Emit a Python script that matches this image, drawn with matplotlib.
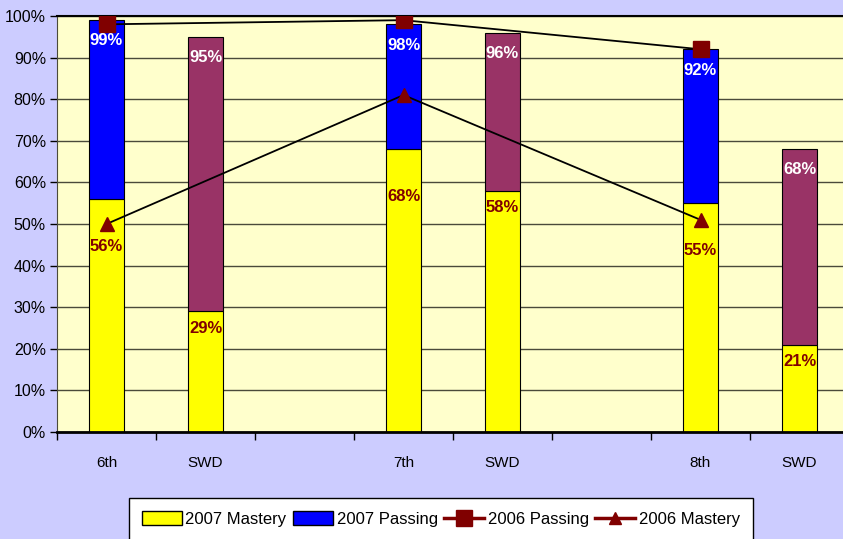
import numpy as np
import matplotlib.pyplot as plt
from matplotlib.lines import Line2D
from matplotlib.patches import Patch

categories = ['6th', 'SWD', '', '7th', 'SWD', '', '8th', 'SWD']
mastery_2007 = [56, 29, None, 68, 58, None, 55, 21]
passing_2007 = [99, 95, None, 98, 96, None, 92, 68]
passing_2006 = [98, None, None, 99, None, None, 92, None]
mastery_2006 = [50, None, None, 81, None, None, 51, None]

YELLOW = '#FFFF00'
BLUE = '#0000FF'
MAROON = '#993366'
DARKRED = '#800000'

plt.rcParams['font.family'] = ['Liberation Sans', 'DejaVu Sans']

fig = plt.figure(figsize=(8.43, 5.39), dpi=100, facecolor='#CCCCFF')
ax = fig.add_axes([57 / 843, 1 - 432 / 539, 792 / 843, 416 / 539])
ax.set_facecolor('#FFFFCC')

x = np.arange(len(categories))
width = 0.35

for i, cat in enumerate(categories):
    m = mastery_2007[i]
    p = passing_2007[i]
    if m is None:
        continue
    top_color = MAROON if cat == 'SWD' else BLUE
    ax.bar(x[i], m, width, color=YELLOW, edgecolor='black', linewidth=0.8, zorder=2)
    ax.bar(x[i], p - m, width, bottom=m, color=top_color, edgecolor='black',
           linewidth=0.8, zorder=2)
    # labels sit lower when a 2006 mastery marker is in the way
    drop = -34 if mastery_2006[i] is not None else -12
    ax.annotate(f'{m}%', (x[i], m), xytext=(0, drop), textcoords='offset points',
                ha='center', va='center', color=DARKRED, fontsize=12,
                fontweight='bold', zorder=5)
    ax.annotate(f'{p}%', (x[i], p), xytext=(0, -15), textcoords='offset points',
                ha='center', va='center', color='white', fontsize=12,
                fontweight='bold', zorder=5)

px = [x[i] for i, v in enumerate(passing_2006) if v is not None]
pv = [v for v in passing_2006 if v is not None]
mx = [x[i] for i, v in enumerate(mastery_2006) if v is not None]
mv = [v for v in mastery_2006 if v is not None]

ax.plot(px, pv, color='black', linewidth=1.3, zorder=3)
ax.plot(px, pv, linestyle='none', marker='s', markersize=12, color=DARKRED, zorder=4)
ax.plot(mx, mv, color='black', linewidth=1.3, zorder=3)
ax.plot(mx, mv, linestyle='none', marker='^', markersize=10, color=DARKRED, zorder=4)

ax.set_xlim(-0.5, len(categories) - 0.5)
ax.set_ylim(0, 100)
ax.set_yticks(np.arange(0, 101, 10))
ax.set_yticklabels([f'{v}%' for v in range(0, 101, 10)])
ax.yaxis.grid(True, color='#4a4a3a', linewidth=1.0, zorder=0)
ax.set_axisbelow(True)

ax.set_xticks(x)
ax.set_xticklabels(categories)
ax.set_xticks(np.arange(-0.5, len(categories), 1), minor=True)
ax.tick_params(axis='x', which='major', length=0, pad=17, labelsize=11)
ax.tick_params(axis='x', which='minor', length=6, width=1, direction='out')
ax.tick_params(axis='y', length=5, width=1, labelsize=11.5, pad=3)

ax.spines['right'].set_visible(False)
ax.spines['top'].set_linewidth(1.5)
ax.spines['bottom'].set_linewidth(2)
ax.spines['left'].set_color('#4a4a3a')

handles = [
    Patch(facecolor=YELLOW, edgecolor='black', label='2007 Mastery'),
    Patch(facecolor=BLUE, edgecolor='black', label='2007 Passing'),
    Line2D([], [], color=DARKRED, linewidth=2.5, marker='s', markersize=11,
           label='2006 Passing'),
    Line2D([], [], color=DARKRED, linewidth=2.5, marker='^', markersize=9,
           label='2006 Mastery'),
]
leg = fig.legend(handles=handles, loc='upper center', ncol=4,
                 bbox_to_anchor=(441 / 843, 1 - 498 / 539), fontsize=12,
                 frameon=True, fancybox=False, edgecolor='black', framealpha=1,
                 borderpad=0.8, handlelength=2.4, handleheight=0.9,
                 handletextpad=0.2, columnspacing=0.4, borderaxespad=0)
leg.get_frame().set_linewidth(1)

fig.savefig('out.png', dpi=100, facecolor=fig.get_facecolor())
